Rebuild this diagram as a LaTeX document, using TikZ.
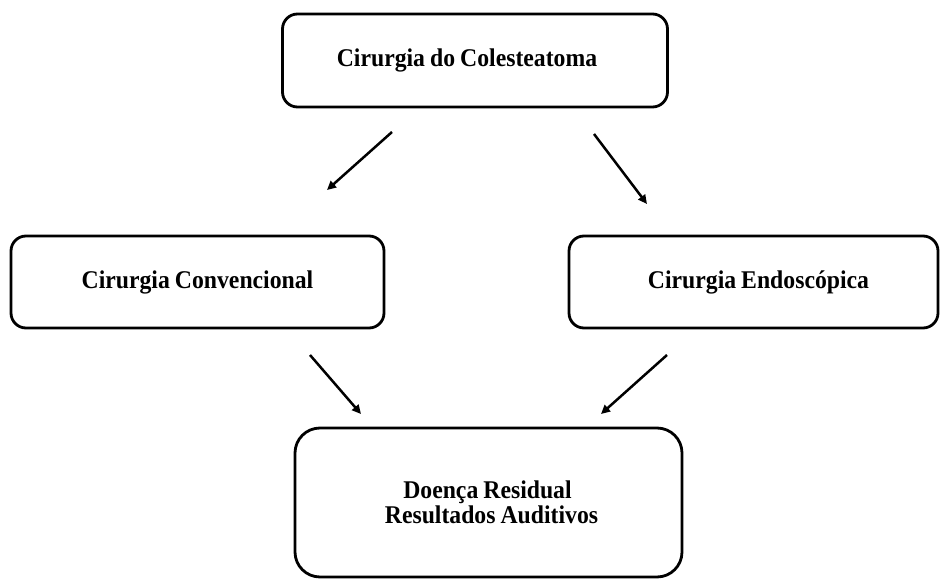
\documentclass[tikz,border=0pt]{standalone}
\usepackage{fontspec}
\setmainfont{Liberation Serif}[FakeStretch=0.93, WordSpace=0.85]
\usetikzlibrary{arrows.meta}
\begin{document}
\begin{tikzpicture}[x=1pt,y=-1pt,
  box/.style={draw=black, line width=2.8pt, rounded corners=15pt, inner sep=0pt,
    align=center, font=\fontsize{25.5}{25}\selectfont\bfseries},
  arr/.style={line width=2.5pt, -{Triangle[length=9pt,width=8.5pt]}}]
\useasboundingbox (0,0) rectangle (944,580);
\node[box, minimum width=385pt, minimum height=93pt] (top) at (475,60.5) {\hspace*{-16pt}Cirurgia do Colesteatoma};
\node[box, minimum width=373pt, minimum height=92pt] (left) at (197.5,282) {Cirurgia Convencional};
\node[box, minimum width=369pt, minimum height=92pt] (right) at (753.5,282) {\hspace*{10pt}Cirurgia Endoscópica};
\node[box, rounded corners=25pt, minimum width=387pt, minimum height=149pt] (bot) at (488.5,502.5) {\hspace*{-2pt}Doença Residual\\\hspace*{6pt}Resultados Auditivos};
\coordinate (a1s) at (392,132); \coordinate (a1e) at (327,190);
\coordinate (a2s) at (594,134); \coordinate (a2e) at (647,204);
\coordinate (a3s) at (310,355); \coordinate (a3e) at (361,414);
\coordinate (a4s) at (667,355); \coordinate (a4e) at (601,414);
\draw[arr] (a1s) -- (a1e);
\draw[arr] (a2s) -- (a2e);
\draw[arr] (a3s) -- (a3e);
\draw[arr] (a4s) -- (a4e);
\end{tikzpicture}
\end{document}
